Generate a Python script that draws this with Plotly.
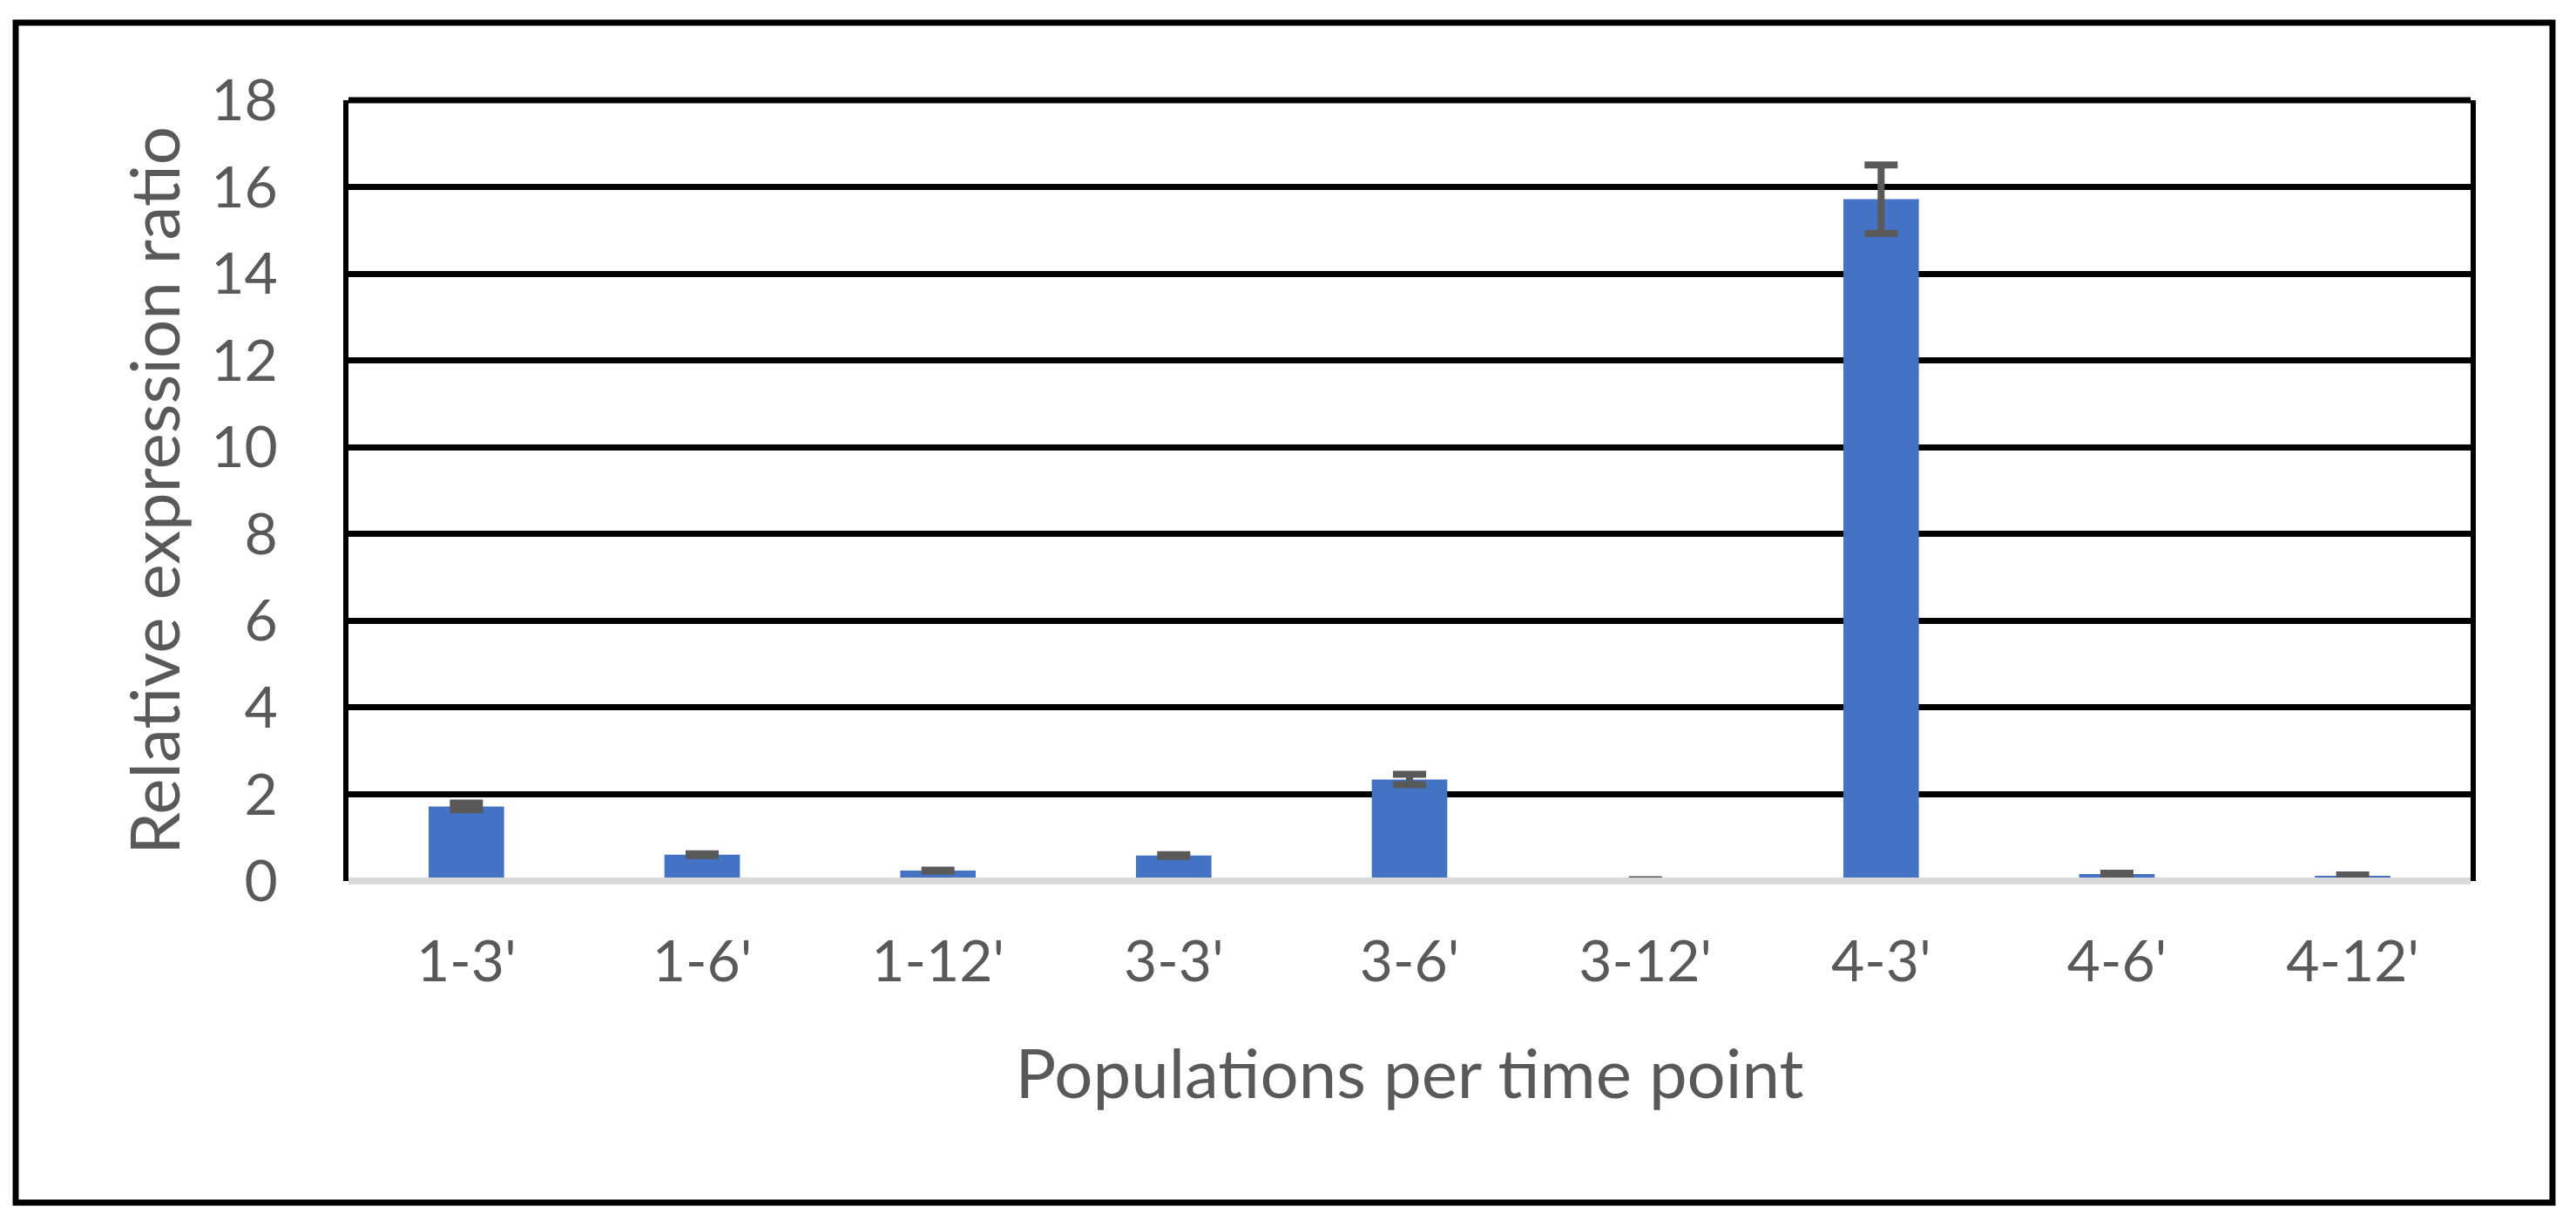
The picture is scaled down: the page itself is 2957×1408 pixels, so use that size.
import plotly.graph_objects as go

categories = ["1-3'", "1-6'", "1-12'", "3-3'", "3-6'", "3-12'", "4-3'", "4-6'", "4-12'"]
values = [1.72, 0.61, 0.24, 0.59, 2.34, 0.02, 15.72, 0.16, 0.12]
errors = [0.08, 0.02, 0.01, 0.02, 0.12, 0.01, 0.79, 0.02, 0.02]
y_ticks = [0, 2, 4, 6, 8, 10, 12, 14, 16, 18]

W, H = 2957, 1408
L, R, T, B = 400, 2836, 115, 1011  # plot area in px

TEXT = "#595959"
FONT = "Lato"

fig = go.Figure()
fig.add_trace(go.Bar(
    x=categories, y=values,
    marker=dict(color="#4472C4", line=dict(width=0)),
    error_y=dict(type="data", array=errors, visible=True,
                 color="#595959", thickness=8, width=19),
    width=0.32,
))

def px_x(p):
    return (p - L) / (R - L)

def px_y(p):
    return (B - p) / (B - T)

shapes = [
    # outer frame
    dict(type="rect", xref="paper", yref="paper",
         x0=px_x(18), x1=px_x(2930), y0=px_y(1380), y1=px_y(26),
         line=dict(color="black", width=7), layer="above"),
    # top border of plot area
    dict(type="line", xref="paper", yref="paper", x0=0, x1=1, y0=1, y1=1,
         line=dict(color="black", width=7), layer="above"),
    # bottom axis line (gray)
    dict(type="line", xref="paper", yref="paper", x0=0, x1=1, y0=0, y1=0,
         line=dict(color="#D9D9D9", width=8), layer="above"),
]

fig.update_layout(
    width=W, height=H,
    margin=dict(l=L, r=W - R, t=T, b=H - B, autoexpand=False),
    paper_bgcolor="white", plot_bgcolor="white",
    showlegend=False,
    font=dict(family=FONT, color=TEXT, size=66),
    shapes=shapes,
    bargap=0.68,
)
fig.update_xaxes(
    showgrid=False, zeroline=False, showline=False, ticks="",
    tickfont=dict(family=FONT, size=66, color=TEXT),
    ticklabelstandoff=48,
    title=dict(text="Populations per time point",
               font=dict(family=FONT, size=78, color=TEXT), standoff=66),
    automargin=False,
)
fig.update_yaxes(
    range=[0, 18], tickvals=y_ticks, ticktext=[str(v) for v in y_ticks],
    showgrid=True, gridcolor="black", gridwidth=7,
    zeroline=False, showline=True, mirror=True, linecolor="black", linewidth=6,
    ticks="", tickfont=dict(family=FONT, size=66, color=TEXT),
    ticklabelstandoff=62,
    title=dict(text="Relative expression ratio",
               font=dict(family=FONT, size=78, color=TEXT), standoff=12),
    automargin=False,
)

fig.write_html("out.html",
               config={"displayModeBar": False},
               post_script="document.body.style.margin='0';document.body.style.overflow='hidden';")
